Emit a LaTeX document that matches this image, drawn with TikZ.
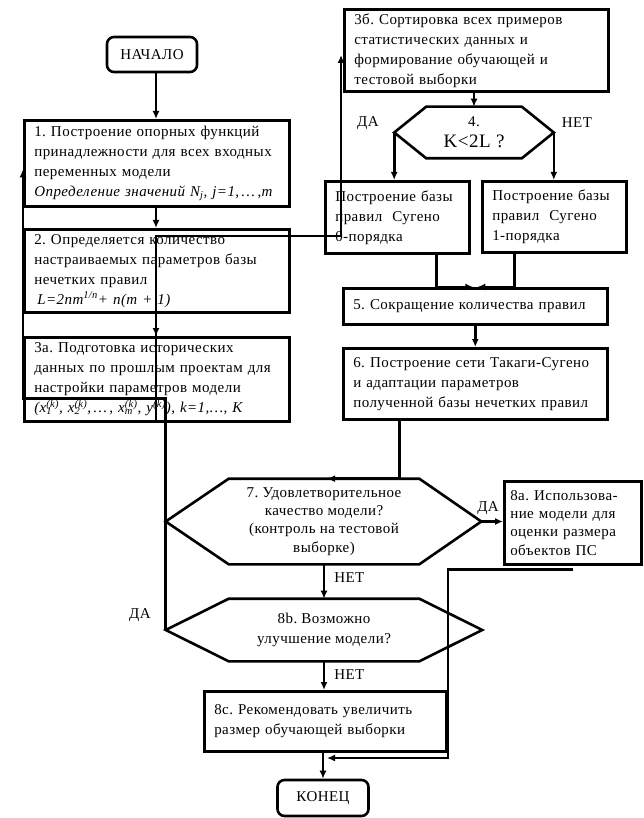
\documentclass[tikz,border=0pt]{standalone}
\usepackage{fontspec}
\setmainfont{Liberation Serif}[LetterSpace=3]
\usetikzlibrary{arrows.meta}
\newcommand{\ssx}[2]{\rlap{\textsubscript{#1}}\textsuperscript{#2}}
\frenchspacing

\begin{document}
\begin{tikzpicture}[x=1pt, y=-1pt, line width=2.6pt,
		every node/.style={font=\fontsize{15}{20}\selectfont},
		block/.style={draw, rectangle, anchor=north west, align=left, inner xsep=10pt, inner ysep=0pt},
		term/.style={draw, rounded corners=7pt, inner sep=0pt},
		hexa/.style={inner sep=0pt, align=center},
		yesno/.style={inner sep=0pt},
		arr/.style={-{Latex[length=8pt,width=7pt]}}]
	\useasboundingbox (0,0) rectangle (643,818);
	
	% left column
	\node[term, minimum width=90pt, minimum height=35pt] (start) at (152,54.5) {НАЧАЛО};
	\node[block, text width=245pt, minimum height=86pt] (b1) at (23,119) {1. Построение опорных функций\\ принадлежности для всех входных\\ переменных модели\\ \textit{Определение значений N\textsubscript{j}, j=1,\,\dots\,,m}};
	\node[block, text width=245pt, minimum height=83pt] (b2) at (23,228) {2. Определяется количество\\ настраиваемых параметров базы\\ нечетких правил\\ \hspace*{3pt}\textit{L=2nm\textsuperscript{1/n}+ n(m + 1)}};
	\node[block, text width=245pt, minimum height=84pt] (b3a) at (23,336) {3а. Подготовка исторических\\ данных по прошлым проектам для\\ настройки параметров модели\\ \textit{(x\ssx{1}{(k)}, x\ssx{2}{(k)},\,\dots\,, x\ssx{m}{(k)}, y\textsuperscript{(k)}), k=1,\dots, K}};
	
	% right column
	\node[block, text width=244pt, minimum height=82pt] (b3b) at (343,8) {3б. Сортировка всех примеров\\ статистических данных и\\ формирование обучающей и\\ тестовой выборки};
	\node[hexa, minimum width=93pt, minimum height=49pt] (d4) at (474,132.5) {4.\\[1pt]{\fontsize{19}{20}\selectfont K<2L ?}};
	\draw (d4.north west) -- (d4.north east) -- ([xshift=32pt]d4.east) coordinate (d4r)
		-- (d4.south east) -- (d4.south west) -- ([xshift=-32pt]d4.west) coordinate (d4l) -- cycle;
	\node[block, text width=124pt, minimum height=72pt] (bl) at (324,180) {Построение базы\\ правил\ \ Сугено\\ 0-порядка};
	\node[block, text width=124pt, minimum height=71pt] (br) at (481,180) {Построение базы\\ правил\ \ Сугено\\ 1-порядка};
	\node[block, text width=244pt, minimum height=36pt] (b5) at (342,287) {5. Сокращение количества правил};
	\node[block, text width=244pt, minimum height=71pt] (b6) at (342,347) {6. Построение сети Такаги-Сугено\\ и адаптации параметров\\ полученной базы нечетких правил};
	
	% checks at the bottom
	\node[hexa, minimum width=188pt, minimum height=83pt, font=\fontsize{15}{18.3}\selectfont] (d7) at (324,521.5) {7. Удовлетворительное\\ качество модели?\\ (контроль на тестовой\\ выборке)};
	\draw (d7.north west) -- (d7.north east) -- ([xshift=62pt]d7.east) coordinate (d7r)
		-- (d7.south east) -- (d7.south west) -- ([xshift=-63pt]d7.west) coordinate (d7l) -- cycle;
	\node[block, text width=125pt, inner xsep=6pt, minimum height=83pt, font=\fontsize{15}{18.3}\selectfont] (b8a) at (503,480) {8а. Использова-\\ ние модели для\\ оценки размера\\ объектов ПС};
	\node[hexa, minimum width=188pt, minimum height=60pt] (d8b) at (324,630) {8b. Возможно\\ улучшение модели?};
	\draw (d8b.north west) -- (d8b.north east) -- ([xshift=63pt]d8b.east) coordinate (d8r)
		-- (d8b.south east) -- (d8b.south west) -- ([xshift=-63pt]d8b.west) coordinate (d8l) -- cycle;
	\node[block, text width=222pt, minimum height=60pt] (b8c) at (203,690) {8с. Рекомендовать увеличить\\ размер обучающей выборки};
	\node[term, minimum width=91pt, minimum height=36pt] (end) at (323,798) {КОНЕЦ};
	
	% labels
	\node[yesno] (da4) at (368,123) {ДА};
	\node[yesno] (net4) at (577,123) {НЕТ};
	\node[yesno] (da7) at (488,508) {ДА};
	\node[yesno, anchor=west] (net7) at (333,578) {НЕТ};
	\node[yesno, anchor=west] (net8) at (333,675) {НЕТ};
	\node[yesno] (da8) at (140,615) {ДА};
	
	% connectors
	\coordinate (cx) at (156,0);
	\coordinate (fb) at (341,236);
	\coordinate (ret) at (448,758);
	\coordinate (retend) at (327,758);
	\draw[arr] (start.south -| cx) -- (b1.north -| cx);
	\draw[arr] (b1.south -| cx) -- (b2.north -| cx);
	\draw[arr] (b2.south -| cx) -- (b3a.north -| cx);
	\draw[arr] (b3a.south -| cx) |- (fb) -- (fb |- 0,55);
	\draw[arr] (b3b.south -| d4) -- (d4.north);
	\draw[arr] (d4l) -- (d4l |- bl.north);
	\draw[arr] (d4r) -- (d4r |- br.north);
	\draw[arr] ([xshift=39pt]bl.south) |- ([xshift=-2pt]b5.north);
	\draw[arr] ([xshift=-40pt]br.south) |- ([xshift=2pt]b5.north);
	\draw[arr] (b5.south) -- (b6.north);
	\draw[arr] ([xshift=-76pt]b6.south) |- ([xshift=3pt]d7.north);
	\draw[arr] (d7r) -- (b8a.west |- d7r);
	\draw[arr] (d7.south) -- (d8b.north);
	\draw[arr] (d8b.south) -- (b8c.north -| d8b.south);
	\draw[arr] (b8c.south -| end) -- (end.north);
	\draw[arr] ([yshift=-4pt]b8a.south) -| (ret) -- (retend);
	\draw[arr] (d8l) |- ([yshift=-235pt]b1.west) -- ([yshift=-6pt]b1.west);
\end{tikzpicture}
\end{document}
